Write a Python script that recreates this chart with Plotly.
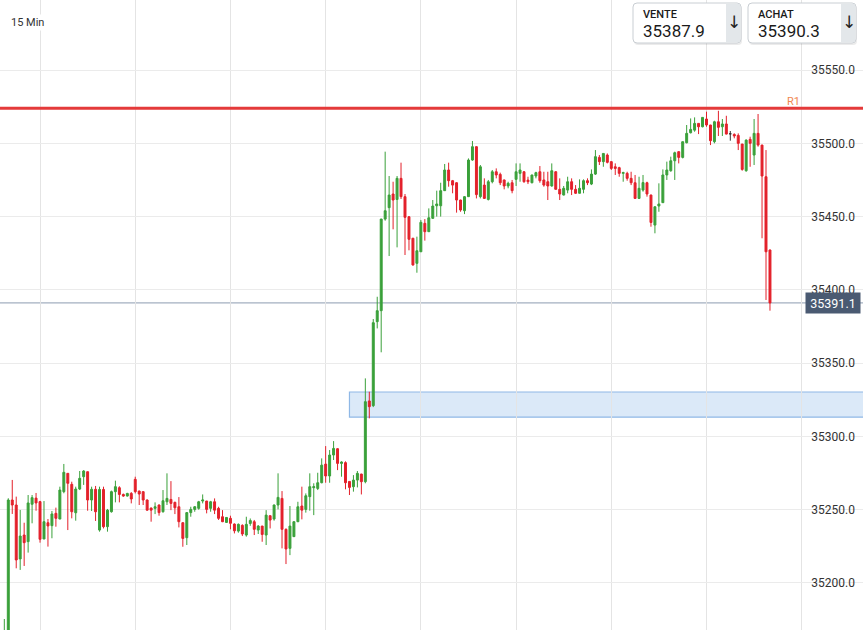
import plotly.graph_objects as go

# ---------------- data (15 min candles) ----------------
candle_idx = list(range(-1, 193))
open_ = [35150.0, 35150.0, 35256.6, 35253.2, 35216.4, 35232.7, 35228.2, 35253.7, 35257.9, 35255.5,
         35230.0, 35241.1, 35239.1, 35247.5, 35243.6, 35262.3, 35274.8, 35267.3, 35247.9, 35264.1,
         35272.5, 35275.9, 35256.6, 35263.9, 35236.1, 35263.8, 35238.4, 35248.6, 35262.3, 35265.0,
         35260.4, 35259.3, 35261.1, 35270.7, 35262.7, 35262.3, 35256.6, 35251.1, 35250.9, 35253.2,
         35248.6, 35255.4, 35257.0, 35255.0, 35252.0, 35241.1, 35230.9, 35248.0, 35250.2, 35250.9,
         35255.9, 35255.9, 35250.9, 35255.4, 35250.9, 35245.2, 35241.3, 35244.1, 35240.2, 35235.4,
         35239.3, 35232.7, 35240.6, 35241.8, 35236.1, 35238.8, 35232.7, 35245.9, 35243.6, 35253.2,
         35257.7, 35236.6, 35223.6, 35231.6, 35241.8, 35252.5, 35250.2, 35258.9, 35265.0, 35264.5,
         35268.4, 35281.1, 35273.0, 35287.3, 35291.6, 35281.6, 35282.1, 35269.3, 35265.7, 35270.2,
         35274.3, 35269.1, 35324.2, 35321.0, 35378.3, 35385.8, 35448.3, 35456.1, 35465.4, 35461.7,
         35476.1, 35463.6, 35449.9, 35435.2, 35418.1, 35426.0, 35445.4, 35439.7, 35448.8, 35457.4,
         35457.4, 35467.7, 35481.8, 35474.5, 35473.1, 35461.3, 35454.0, 35463.6, 35488.6, 35497.7,
         35463.6, 35471.5, 35461.7, 35473.8, 35480.6, 35478.8, 35475.0, 35470.9, 35473.1, 35475.4,
         35479.5, 35480.6, 35474.9, 35473.1, 35477.7, 35480.6, 35475.0, 35473.8, 35470.9, 35480.6,
         35468.6, 35464.7, 35468.1, 35473.8, 35468.6, 35465.9, 35468.6, 35474.5, 35472.2, 35479.0,
         35490.4, 35487.5, 35492.0, 35487.5, 35484.0, 35483.4, 35479.5, 35479.5, 35476.1, 35473.1,
         35462.4, 35468.1, 35473.1, 35464.7, 35444.2, 35457.2, 35459.5, 35478.4, 35481.3, 35488.1,
         35494.3, 35490.4, 35500.4, 35507.2, 35509.0, 35513.6, 35511.3, 35516.6, 35512.5, 35501.1,
         35514.7, 35511.3, 35513.2, 35506.5, 35506.1, 35505.4, 35499.5, 35481.3, 35502.7, 35492.0,
         35506.8, 35498.8, 35477.2, 35427.2]
high = [35175.4, 35257.8, 35270.3, 35258.9, 35249.8, 35241.1, 35260.0, 35260.0, 35261.4, 35256.0,
        35255.9, 35243.6, 35249.1, 35251.4, 35265.7, 35281.2, 35275.0, 35269.1, 35265.7, 35276.4,
        35277.0, 35276.0, 35265.7, 35266.2, 35265.7, 35265.7, 35250.5, 35263.0, 35269.8, 35266.0,
        35261.0, 35261.5, 35262.0, 35272.5, 35263.0, 35262.5, 35257.0, 35251.5, 35255.0, 35253.5,
        35263.4, 35274.8, 35269.5, 35255.5, 35258.6, 35241.5, 35248.3, 35252.0, 35252.5, 35256.0,
        35260.4, 35256.0, 35256.0, 35257.7, 35252.0, 35249.7, 35245.0, 35245.9, 35240.6, 35240.6,
        35240.0, 35245.2, 35244.0, 35243.0, 35239.5, 35239.0, 35249.7, 35246.0, 35253.5, 35274.8,
        35262.7, 35237.2, 35252.5, 35242.0, 35255.4, 35265.7, 35261.1, 35274.8, 35268.0, 35275.2,
        35285.0, 35293.4, 35290.7, 35296.8, 35292.0, 35283.0, 35283.0, 35269.5, 35273.6, 35276.4,
        35274.5, 35339.6, 35330.5, 35380.1, 35395.3, 35448.5, 35494.3, 35477.7, 35473.8, 35477.7,
        35486.8, 35465.4, 35450.4, 35435.5, 35436.3, 35447.7, 35448.3, 35455.6, 35461.3, 35467.7,
        35473.1, 35485.9, 35486.8, 35475.0, 35473.5, 35461.5, 35464.0, 35489.7, 35501.6, 35498.0,
        35485.2, 35476.1, 35475.0, 35481.8, 35482.9, 35480.0, 35475.2, 35473.8, 35475.0, 35486.3,
        35486.3, 35481.0, 35477.2, 35478.5, 35480.6, 35484.5, 35480.6, 35480.6, 35486.3, 35481.0,
        35476.1, 35470.9, 35477.2, 35476.1, 35471.5, 35475.4, 35475.4, 35476.1, 35482.2, 35495.4,
        35492.0, 35493.2, 35493.1, 35487.6, 35486.3, 35484.0, 35480.6, 35480.6, 35480.6, 35478.4,
        35477.2, 35478.4, 35473.8, 35465.0, 35457.0, 35472.7, 35482.2, 35487.5, 35490.9, 35494.3,
        35494.5, 35501.2, 35512.5, 35517.0, 35517.7, 35513.7, 35517.8, 35521.6, 35512.6, 35515.4,
        35522.2, 35516.6, 35518.8, 35508.4, 35506.8, 35506.8, 35499.6, 35502.7, 35504.5, 35516.6,
        35520.0, 35499.0, 35495.4, 35427.5]
low = [35140.0, 35140.0, 35247.1, 35210.0, 35208.9, 35211.6, 35220.7, 35240.7, 35249.3, 35227.5,
       35230.0, 35224.8, 35230.5, 35238.4, 35243.6, 35261.2, 35236.1, 35244.1, 35242.5, 35263.4,
       35266.9, 35249.3, 35249.1, 35242.3, 35235.0, 35237.2, 35235.0, 35248.0, 35255.0, 35255.0,
       35258.8, 35259.0, 35254.3, 35261.1, 35253.2, 35253.2, 35249.3, 35241.8, 35247.0, 35245.9,
       35248.0, 35253.2, 35249.7, 35247.0, 35237.9, 35224.7, 35225.9, 35245.2, 35248.6, 35250.0,
       35254.3, 35247.5, 35248.6, 35247.0, 35243.0, 35241.5, 35241.0, 35236.6, 35233.8, 35234.3,
       35232.0, 35231.6, 35239.0, 35232.7, 35233.4, 35228.1, 35225.9, 35237.2, 35242.5, 35250.2,
       35223.6, 35212.9, 35219.0, 35231.5, 35241.5, 35243.4, 35248.0, 35249.3, 35246.3, 35263.4,
       35268.0, 35268.4, 35268.4, 35283.9, 35277.0, 35272.5, 35263.9, 35260.0, 35262.3, 35265.2,
       35260.4, 35268.0, 35312.3, 35320.0, 35373.7, 35357.4, 35447.2, 35423.1, 35441.3, 35429.0,
       35462.0, 35423.8, 35427.0, 35416.5, 35411.7, 35426.0, 35433.6, 35439.5, 35448.5, 35450.0,
       35450.0, 35467.5, 35470.4, 35465.9, 35452.7, 35453.3, 35451.7, 35463.4, 35488.1, 35462.4,
       35462.4, 35462.0, 35461.0, 35472.7, 35476.1, 35471.5, 35468.6, 35469.3, 35465.9, 35470.9,
       35473.8, 35473.1, 35472.2, 35472.7, 35476.1, 35473.1, 35470.4, 35461.3, 35470.4, 35468.5,
       35461.3, 35464.5, 35465.9, 35464.7, 35465.4, 35465.8, 35465.9, 35471.5, 35471.5, 35478.4,
       35485.2, 35484.0, 35486.3, 35481.8, 35478.4, 35477.2, 35473.8, 35474.5, 35471.5, 35462.0,
       35462.0, 35467.0, 35463.6, 35443.1, 35438.6, 35453.3, 35459.5, 35475.0, 35480.6, 35475.0,
       35486.3, 35489.7, 35500.0, 35506.8, 35507.9, 35506.3, 35510.9, 35511.3, 35498.8, 35500.0,
       35505.0, 35505.0, 35506.1, 35501.8, 35503.4, 35495.4, 35481.3, 35480.6, 35484.0, 35485.2,
       35497.7, 35435.2, 35393.1, 35385.8]
close = [35160.0, 35256.6, 35253.2, 35215.7, 35232.0, 35227.5, 35254.6, 35258.2, 35254.6, 35229.8,
         35241.8, 35238.9, 35247.1, 35244.1, 35263.4, 35275.5, 35268.0, 35248.6, 35264.1, 35271.4,
         35276.4, 35256.6, 35263.9, 35248.6, 35263.8, 35238.4, 35249.7, 35262.3, 35265.7, 35260.4,
         35259.3, 35261.1, 35257.3, 35262.3, 35260.7, 35256.6, 35249.7, 35249.7, 35252.0, 35248.0,
         35256.1, 35257.7, 35254.3, 35251.3, 35241.8, 35230.4, 35248.0, 35250.2, 35252.0, 35255.4,
         35256.6, 35250.2, 35255.4, 35249.7, 35244.1, 35241.8, 35244.7, 35240.7, 35235.6, 35240.0,
         35233.4, 35240.0, 35242.6, 35236.6, 35238.8, 35233.1, 35246.3, 35242.9, 35253.2, 35258.4,
         35236.6, 35223.2, 35238.8, 35241.8, 35252.0, 35249.7, 35259.5, 35265.7, 35265.7, 35268.4,
         35280.4, 35273.0, 35287.3, 35291.8, 35281.6, 35282.5, 35268.4, 35265.2, 35270.2, 35274.8,
         35269.1, 35323.7, 35320.3, 35377.6, 35385.8, 35448.3, 35454.0, 35464.7, 35461.3, 35476.1,
         35463.6, 35449.5, 35434.5, 35417.0, 35426.7, 35446.1, 35439.7, 35449.2, 35457.2, 35458.6,
         35467.7, 35481.8, 35474.5, 35471.5, 35461.3, 35454.5, 35463.6, 35488.6, 35497.7, 35465.0,
         35484.0, 35462.4, 35473.8, 35480.6, 35478.4, 35473.1, 35470.9, 35472.7, 35467.7, 35480.6,
         35481.8, 35473.8, 35473.8, 35478.4, 35480.0, 35474.5, 35471.5, 35470.9, 35481.3, 35468.6,
         35465.4, 35469.3, 35473.8, 35468.6, 35465.9, 35469.3, 35474.5, 35473.1, 35479.0, 35490.9,
         35487.5, 35493.1, 35487.0, 35482.9, 35482.9, 35479.5, 35480.0, 35476.1, 35473.1, 35462.4,
         35469.3, 35473.2, 35465.4, 35446.0, 35456.7, 35458.6, 35478.4, 35481.8, 35488.1, 35493.6,
         35490.4, 35501.1, 35506.8, 35509.5, 35513.6, 35511.3, 35517.7, 35512.5, 35501.8, 35514.7,
         35510.9, 35513.2, 35506.3, 35506.5, 35505.0, 35500.0, 35482.2, 35502.2, 35500.0, 35506.8,
         35498.8, 35477.7, 35426.0, 35391.1]

time_grid_idx = [8, 32, 56, 80, 104, 128, 152, 176, 200]
price_ticks = [35200, 35250, 35300, 35350, 35400, 35450, 35500, 35550]
r1_level = 35524.0
zone_start_idx = 86
zone_low, zone_high = 35313.2, 35330.3
last_price = 35391.1
sell_price, buy_price = "35387.9", "35390.3"
timeframe = "15 Min"

W, H = 863, 630
X_RANGE = [-2.09, 215.45]
Y_RANGE = [35167.9, 35597.8]

# split normal candles and doji (open == close)
norm = [i for i in range(len(close)) if open_[i] != close[i]]
doji = [i for i in range(len(close)) if open_[i] == close[i]]

def pick(arr, idx):
    return [arr[i] for i in idx]

GREEN = "#3aa03a"
RED = "#e3202a"

fig = go.Figure()
fig.add_trace(go.Candlestick(
    x=pick(candle_idx, norm), open=pick(open_, norm), high=pick(high, norm),
    low=pick(low, norm), close=pick(close, norm),
    increasing=dict(line=dict(color=GREEN, width=1), fillcolor=GREEN),
    decreasing=dict(line=dict(color=RED, width=1), fillcolor=RED),
    whiskerwidth=0, showlegend=False, hoverinfo="skip"))
fig.add_trace(go.Candlestick(
    x=pick(candle_idx, doji), open=pick(open_, doji), high=pick(high, doji),
    low=pick(low, doji), close=pick(close, doji),
    increasing=dict(line=dict(color="#333333", width=1), fillcolor="#333333"),
    decreasing=dict(line=dict(color="#333333", width=1), fillcolor="#333333"),
    whiskerwidth=0, showlegend=False, hoverinfo="skip"))

def px(x):
    return x / W

def py(y):
    return 1 - y / H

def rrect(x0, y0, x1, y1, r, left=True, right=True):
    rx, ry = r / W, r / H
    X0, X1, Y0, Y1 = px(x0), px(x1), py(y0), py(y1)
    p = []
    if left:
        p.append(f"M{X0+rx},{Y0}")
    else:
        p.append(f"M{X0},{Y0}")
    if right:
        p.append(f"L{X1-rx},{Y0} Q{X1},{Y0} {X1},{Y0-ry} L{X1},{Y1+ry} Q{X1},{Y1} {X1-rx},{Y1}")
    else:
        p.append(f"L{X1},{Y0} L{X1},{Y1}")
    if left:
        p.append(f"L{X0+rx},{Y1} Q{X0},{Y1} {X0},{Y1+ry} L{X0},{Y0-ry} Q{X0},{Y0} {X0+rx},{Y0}")
    else:
        p.append(f"L{X0},{Y1}")
    p.append("Z")
    return " ".join(p)

shapes = [
    # demand zone
    dict(type="rect", xref="x", yref="y", x0=zone_start_idx, x1=X_RANGE[1] + 20,
         y0=zone_low, y1=zone_high, fillcolor="rgba(190,215,243,0.55)",
         line=dict(color="#8fb8e6", width=1.2), layer="below"),
    # R1 line
    dict(type="line", xref="paper", yref="y", x0=0, x1=1, y0=r1_level, y1=r1_level,
         line=dict(color="#e43a3a", width=3)),
    # last price line
    dict(type="line", xref="paper", yref="y", x0=0, x1=1, y0=last_price, y1=last_price,
         line=dict(color="#8c9bb0", width=1), layer="below"),
]

annotations = [
    dict(text=timeframe, xref="paper", yref="paper", x=px(9), y=py(23), xanchor="left",
         yanchor="middle", showarrow=False, font=dict(family="Roboto", size=11, color="#333"),
         bgcolor="white", borderpad=1),
    dict(text="R1", xref="paper", yref="y", x=px(802), y=r1_level, yshift=7, xanchor="right",
         yanchor="middle", showarrow=False, font=dict(family="Roboto", size=11, color="#f0874f")),
    dict(text=f"{last_price:.1f}", xref="paper", yref="y", x=px(833), y=last_price,
         xanchor="center", yanchor="middle", showarrow=False, width=50, height=16,
         bgcolor="#4a5a72", borderpad=2, font=dict(family="Roboto", size=12.5, color="white")),
]

for (bx0, label, val) in [(633, "VENTE", sell_price), (748, "ACHAT", buy_price)]:
    bx1 = bx0 + 108
    shapes.append(dict(type="path", xref="paper", yref="paper",
                       path=rrect(bx0 + 1, 5, bx1 + 1, 45, 4),
                       fillcolor="rgba(0,0,0,0.08)", line=dict(width=0)))
    shapes.append(dict(type="path", xref="paper", yref="paper",
                       path=rrect(bx0, 3, bx1, 43, 4),
                       fillcolor="white", line=dict(color="#c9ced3", width=1)))
    shapes.append(dict(type="path", xref="paper", yref="paper",
                       path=rrect(bx1 - 15, 3.5, bx1 - 0.5, 42.5, 3.5, left=False),
                       fillcolor="#e3e7ea", line=dict(width=0)))
    annotations.append(dict(text=label, xref="paper", yref="paper", x=px(bx0 + 8), y=py(14),
                            xanchor="left", yanchor="middle", showarrow=False,
                            font=dict(family="Roboto", size=11, color="#1a1a1a", weight=500)))
    annotations.append(dict(text=val, xref="paper", yref="paper", x=px(bx0 + 8), y=py(31),
                            xanchor="left", yanchor="middle", showarrow=False,
                            font=dict(family="Roboto", size=17, color="#1a1a1a")))
    annotations.append(dict(text="↓", xref="paper", yref="paper", x=px(bx1 - 7.5), y=py(22),
                            xanchor="center", yanchor="middle", showarrow=False,
                            font=dict(family="DejaVu Sans", size=17, color="#222")))

fig.update_layout(
    width=W, height=H, margin=dict(l=0, r=0, t=0, b=0),
    paper_bgcolor="white", plot_bgcolor="white",
    shapes=shapes, annotations=annotations, showlegend=False,
    boxgap=0.3,
    xaxis=dict(range=X_RANGE, tickvals=time_grid_idx, showticklabels=False,
               showgrid=True, gridcolor="#e4e4e4", gridwidth=1, zeroline=False,
               showline=False, ticks="", rangeslider=dict(visible=False), fixedrange=True),
    yaxis=dict(range=Y_RANGE, side="right", ticklabelposition="inside",
               ticklabelstandoff=5,
               tickvals=price_ticks, ticktext=[f"{v:.1f}" for v in price_ticks],
               showgrid=True, gridcolor="#ebebeb", gridwidth=1, zeroline=False,
               showline=False, ticks="", tickfont=dict(family="Roboto", size=12, color="#333"),
               fixedrange=True),
)

fig.write_html(
    "out.html",
    config={"displayModeBar": False},
    post_script="document.body.style.margin='0';document.body.style.padding='0';"
                "document.body.style.overflow='hidden';",
)
